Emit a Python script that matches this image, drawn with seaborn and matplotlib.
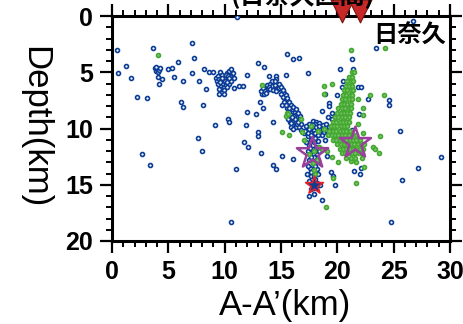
import matplotlib
matplotlib.use("Agg")
import matplotlib.pyplot as plt
import numpy as np
import pandas as pd
import seaborn as sns

# ---------------- data (km along A-A', depth km) ----------------
blue_pts = [
    (0.4, 3.0), (0.5, 5.1), (1.2, 4.4), (1.7, 5.5), (2.2, 7.2), (3.1, 7.3), (3.6, 2.8),
    (3.8, 4.6), (3.9, 4.9), (4.0, 4.7), (4.1, 5.0), (4.2, 4.8), (3.9, 4.5), (4.3, 4.6),
    (4.1, 5.4), (4.2, 6.0), (4.4, 5.6),
    (5.0, 4.7), (5.3, 4.6), (5.5, 5.4), (5.9, 4.1), (6.1, 7.6), (6.3, 8.1), (6.3, 5.8),
    (7.1, 2.4), (7.1, 5.1), (7.3, 3.7), (7.7, 5.8), (8.1, 7.9), (8.2, 4.7), (8.3, 6.5), (8.6, 5.0),
    (9.1, 9.7), (7.6, 10.8), (8.0, 12.0), (2.7, 12.3), (3.4, 13.2), (10.3, 9.2), (10.4, 9.4),
    (11.0, 13.6), (11.9, 9.7), (12.0, 8.5), (11.7, 11.2), (12.1, 11.6), (13.0, 10.3), (13.0, 10.7),
    (12.8, 8.7), (13.2, 12.2), (13.4, 8.2), (13.1, 7.6), (14.3, 9.4), (15.1, 12.4), (14.3, 13.2),
    (14.6, 13.6), (16.1, 12.7), (10.6, 18.3), (11.1, 0.1),
    (11.3, 6.2), (11.6, 6.2), (10.8, 6.4), (12.0, 5.2), (13.0, 4.2), (13.5, 4.5), (13.9, 5.3),
    (14.6, 5.3), (14.6, 5.6), (15.4, 5.2), (15.5, 3.4), (16.1, 3.8), (16.6, 3.7), (17.4, 5.1),
    # cluster 9-11 km
    (9.0, 5.0), (9.2, 5.5), (9.3, 5.8), (9.4, 5.3), (9.6, 5.0), (9.8, 5.2), (10.0, 5.4),
    (10.2, 5.1), (10.4, 4.9), (10.6, 4.7), (10.5, 5.3), (10.3, 5.6), (10.0, 5.8), (9.8, 6.0),
    (9.6, 6.2), (9.7, 6.5), (9.9, 6.6), (9.5, 6.9), (10.1, 6.1), (10.4, 6.0), (10.6, 5.8),
    (10.8, 5.5), (9.9, 6.9), (10.2, 6.3), (9.5, 5.6), (9.7, 5.7), (10.7, 5.1), (9.4, 6.0),
    (9.8, 5.5), (10.1, 5.2), (10.3, 5.3), (9.6, 5.9), (10.2, 5.9), (9.5, 6.5), (10.4, 5.5),
    # arc 13-17 km
    (13.3, 6.9), (13.4, 6.6), (13.6, 6.3), (13.8, 6.1), (14.0, 6.0), (14.3, 5.9), (14.6, 6.0),
    (14.9, 6.2), (15.1, 6.5), (15.3, 6.8), (13.5, 6.9), (13.8, 6.6), (14.1, 6.4), (14.4, 6.3),
    (14.7, 6.5), (15.0, 6.9), (15.2, 7.2), (15.4, 7.5), (15.6, 7.8), (15.8, 8.0), (16.0, 8.3),
    (16.2, 8.5), (16.4, 8.7), (16.5, 9.0), (15.5, 8.2), (15.7, 8.5), (15.9, 8.8), (16.1, 9.1),
    (16.3, 9.4), (16.0, 9.7), (15.8, 9.4), (16.6, 9.3), (16.7, 8.9), (15.6, 8.9), (15.9, 9.9),
    (16.3, 9.9), (13.2, 6.7), (14.2, 6.2), (14.5, 6.1), (14.8, 6.4), (15.3, 7.6), (15.1, 7.9),
    (16.4, 9.6), (16.6, 9.9), (15.6, 9.2),
    (13.4, 6.4), (13.6, 6.7), (13.9, 6.3), (14.2, 5.8), (14.5, 5.8), (14.8, 6.0), (15.0, 6.3),
    (15.2, 6.6), (15.4, 7.0), (15.5, 7.3), (15.7, 7.6), (15.9, 7.9), (16.1, 8.1), (16.3, 8.3),
    (16.5, 8.6), (16.7, 9.2), (16.8, 9.6), (16.5, 9.4), (16.2, 9.2), (16.0, 9.0), (15.7, 8.2),
    (15.4, 7.9), (15.9, 9.5), (16.1, 10.0), (16.8, 10.1), (13.7, 6.8), (14.0, 6.5), (14.3, 6.6),
    (14.6, 6.7),
    # column 17-19 km
    (17.3, 10.0), (17.5, 9.6), (17.8, 9.3), (18.1, 9.4), (18.4, 9.5), (18.7, 9.7), (19.0, 9.6),
    (19.3, 9.9), (17.6, 10.3), (17.9, 10.1), (18.2, 10.3), (18.5, 10.1), (17.4, 10.7),
    (17.7, 11.0), (18.0, 10.8), (18.3, 11.1), (17.5, 11.5), (17.8, 11.8), (18.1, 11.6),
    (17.6, 12.2), (17.9, 12.5), (18.2, 12.3), (17.5, 12.8), (17.8, 13.1), (18.1, 13.0),
    (17.6, 13.5), (17.9, 13.8), (18.2, 13.6), (17.7, 14.2), (18.0, 14.5), (17.8, 14.9),
    (18.1, 15.2), (17.7, 15.4), (17.9, 15.8), (18.3, 14.0), (17.4, 13.3), (17.3, 14.0),
    (17.0, 10.4), (18.9, 6.9), (19.3, 7.7), (18.6, 8.4), (18.9, 11.0), (19.6, 10.0),
    (19.1, 12.4), (19.8, 8.8), (19.5, 9.2), (18.0, 9.6), (18.6, 10.6), (18.8, 10.3),
    (17.2, 11.2), (18.4, 12.0), (18.3, 12.8), (17.4, 12.0), (18.5, 15.0), (17.5, 14.7),
    (17.2, 9.8), (17.5, 10.0), (17.8, 9.7), (18.1, 9.9), (18.4, 9.8), (18.7, 10.0), (19.0, 10.1),
    (17.1, 10.2), (17.4, 10.4), (17.7, 10.6), (18.0, 10.4), (18.3, 10.6), (17.9, 11.2),
    (17.6, 11.7), (18.0, 12.0), (17.7, 12.5), (18.0, 13.3), (17.7, 13.9), (17.9, 14.2),
    (18.2, 14.8), (17.9, 15.3),
    # deep / right side
    (18.6, 16.4), (17.5, 16.0), (19.8, 15.0), (19.4, 13.9), (19.6, 14.2), (24.8, 18.3), (25.7, 14.6),
    (22.7, 7.4), (24.6, 7.5), (24.6, 7.9), (21.9, 8.7), (25.6, 10.2), (29.2, 12.5), (27.2, 13.5),
    (22.1, 13.5), (21.3, 10.1), (23.4, 2.8), (26.7, 0.4), (21.3, 3.8), (20.2, 4.7), (21.4, 4.7),
    (21.8, 6.3), (22.1, 6.3), (20.4, 6.3), (20.5, 5.8),
    (19.3, 8.0), (19.5, 8.6), (19.2, 9.0), (20.8, 10.2), (20.0, 7.0), (21.5, 13.8), (22.0, 14.0),
]

green_pts = [
    (4.1, 3.5), (13.3, 6.1), (15.5, 8.6), (15.4, 8.9), (15.6, 8.7), (15.1, 10.3), (15.7, 10.6),
    (18.8, 6.2), (18.8, 6.9), (19.5, 6.0), (21.2, 3.0), (24.2, 2.8), (21.3, 5.0), (21.5, 5.0),
    (22.9, 7.0), (24.1, 7.0), (22.3, 8.2), (21.8, 7.4), (21.8, 9.6), (22.3, 10.4), (23.8, 10.7),
    (23.2, 11.6), (23.3, 11.8), (23.7, 12.2), (20.1, 13.0), (21.2, 12.9), (21.7, 13.0),
    (22.2, 12.6), (22.4, 13.4), (19.6, 14.4), (19.0, 17.0), (21.7, 14.8), (22.3, 8.8),
    # main green band
    (21.0, 5.4), (21.3, 5.4),
    (20.9, 5.8), (21.2, 5.8), (21.4, 5.8),
    (20.8, 6.2), (21.0, 6.2), (21.3, 6.2),
    (20.6, 6.6), (20.9, 6.6), (21.2, 6.6), (21.4, 6.6),
    (20.5, 7.0), (20.8, 7.0), (21.1, 7.0), (21.3, 7.0),
    (20.4, 7.4), (20.7, 7.4), (21.0, 7.4), (21.3, 7.4),
    (20.3, 7.8), (20.6, 7.8), (20.9, 7.8), (21.2, 7.8),
    (20.1, 8.2), (20.4, 8.2), (20.7, 8.2), (21.0, 8.2), (21.2, 8.2),
    (20.0, 8.6), (20.3, 8.6), (20.6, 8.6), (20.9, 8.6), (21.1, 8.6),
    (19.8, 9.0), (20.1, 9.0), (20.4, 9.0), (20.7, 9.0), (21.0, 9.0),
    (19.6, 9.4), (19.9, 9.4), (20.2, 9.4), (20.5, 9.4), (20.8, 9.4), (21.0, 9.4),
    (19.4, 9.8), (19.7, 9.8), (20.0, 9.8), (20.3, 9.8), (20.6, 9.8), (20.9, 9.8),
    (19.3, 10.2), (19.6, 10.2), (19.9, 10.2), (20.2, 10.2), (20.5, 10.2), (20.8, 10.2), (21.1, 10.2),
    (19.2, 10.6), (19.5, 10.6), (19.8, 10.6), (20.1, 10.6), (20.4, 10.6), (20.7, 10.6),
    (21.0, 10.6), (21.3, 10.6), (21.7, 10.6),
    (19.6, 11.0), (19.9, 11.0), (20.2, 11.0), (20.5, 11.0), (20.8, 11.0), (21.1, 11.0),
    (21.4, 11.0), (21.7, 11.0), (22.0, 11.0),
    (20.0, 11.4), (20.3, 11.4), (20.6, 11.4), (20.9, 11.4), (21.2, 11.4), (21.5, 11.4),
    (21.8, 11.4), (22.1, 11.4), (22.4, 11.4),
    (20.2, 11.8), (20.5, 11.8), (20.8, 11.8), (21.1, 11.8), (21.4, 11.8), (21.7, 11.8),
    (22.0, 11.8), (22.3, 11.8),
    (20.4, 12.2), (20.7, 12.2), (21.0, 12.2), (21.3, 12.2), (21.6, 12.2), (21.9, 12.2), (22.2, 12.2),
    (20.8, 12.6), (21.2, 12.6), (21.6, 12.6),
    # inside the blue column
    (17.5, 12.3), (17.9, 12.0), (18.2, 12.8), (17.8, 13.1), (18.3, 10.2), (18.8, 10.0),
    (17.9, 13.7), (18.4, 11.6), (17.0, 11.0), (19.5, 12.5), (19.1, 12.0), (17.7, 9.8),
    (16.9, 10.3), (16.8, 9.2), (18.6, 11.8), (18.0, 14.0),
]

star_purple_x = [17.8, 21.6]
star_purple_depth = [12.2, 11.3]
star_red_x = [17.9]
star_red_depth = [15.0]
volcano_x = [20.4, 22.0]
volcano_depth = [-0.43, -0.43]

x_ticks = [0, 5, 10, 15, 20, 25, 30]
y_ticks = [0, 5, 10, 15, 20]

BLUE = "#0c3d96"
GREEN = "#45a832"
PURPLE = "#9a3f9c"
RED = "#e3212b"

# ---------------- figure ----------------
sns.set_style("ticks")
plt.rcParams["font.family"] = ["Liberation Sans", "Noto Sans CJK JP", "DejaVu Sans"]
plt.rcParams["text.color"] = "black"
plt.rcParams["xtick.color"] = "black"
plt.rcParams["ytick.color"] = "black"

fig = plt.figure(figsize=(4.63, 3.24), dpi=100)
ax = fig.add_axes([112 / 463, 1 - 241 / 324, 338 / 463, 225 / 324])

df_blue = pd.DataFrame(blue_pts, columns=["x", "depth"])
df_green = pd.DataFrame(green_pts, columns=["x", "depth"])

sns.scatterplot(data=df_blue, x="x", y="depth", ax=ax, marker="o", s=8,
                color="white", edgecolor=BLUE, linewidth=1.2, legend=False, zorder=3)
sns.scatterplot(data=df_green, x="x", y="depth", ax=ax, marker="o", s=8,
                color="#7cc86a", edgecolor=GREEN, linewidth=1.2, legend=False, zorder=4)

sns.scatterplot(x=star_red_x, y=star_red_depth, ax=ax, marker="*", s=180,
                color=BLUE, edgecolor=RED, linewidth=1.2, legend=False, zorder=5)
sns.scatterplot(x=star_purple_x, y=star_purple_depth, ax=ax, marker="*", s=560,
                color="none", edgecolor=PURPLE, linewidth=1.8, legend=False, zorder=6)
sns.scatterplot(x=volcano_x, y=volcano_depth, ax=ax, marker="v", s=270,
                color="#c62828", edgecolor="#7a1010", linewidth=0.8, legend=False,
                zorder=7, clip_on=False)

ax.set_xlim(0, 30)
ax.set_ylim(20, 0)
ax.set_xticks(x_ticks)
ax.set_yticks(y_ticks)
ax.set_xticks(np.arange(0, 31, 1), minor=True)
ax.set_yticks(np.arange(0, 21, 1), minor=True)
ax.set_xlabel("")
ax.set_ylabel("")

for sp in ax.spines.values():
    sp.set_visible(True)
    sp.set_linewidth(2.2)
    sp.set_color("black")

ax.tick_params(which="major", direction="out", length=8.5, width=1.6,
               top=True, right=True, labeltop=False, labelright=False, pad=5,
               labelsize=18, colors="black")
ax.tick_params(which="minor", direction="out", length=4.5, width=1.4,
               top=True, right=True, colors="black")
for lab in ax.get_xticklabels() + ax.get_yticklabels():
    lab.set_fontweight("bold")
    lab.set_color("black")

ax.text(0.987, 0.965, "日奈久", transform=ax.transAxes, ha="right", va="top",
        fontsize=17.5, fontweight="bold", color="black",
        family=["Noto Sans CJK JP", "DejaVu Sans"], zorder=8)

fig.text(303 / 463, 1 - 9 / 324, "(日奈久区間)", ha="center", va="bottom",
         fontsize=18, fontweight="bold", color="black",
         family=["Noto Sans CJK JP", "DejaVu Sans"])

fig.text(285 / 463, 1 - 305 / 324, "A-A’(km)", ha="center", va="center",
         fontsize=25, color="black")
fig.text(35 / 463, 1 - 127 / 324, "Depth(km)", ha="center", va="center",
         rotation=270, fontsize=25, color="black")

fig.savefig("out.png", dpi=100)
